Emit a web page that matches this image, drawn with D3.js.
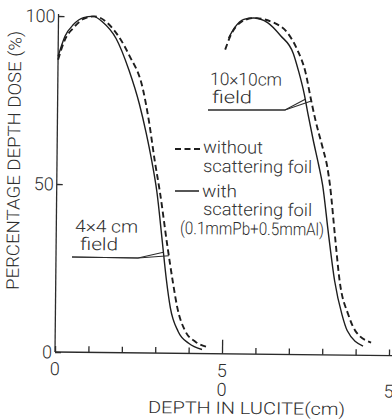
<!DOCTYPE html>
<html lang="en">
<head>
<meta charset="utf-8" />
<title>Percentage depth dose in lucite</title>
<script src="https://d3js.org/d3.v7.min.js"></script>
<style>
html, body { margin: 0; padding: 0; background: #fff; }
svg { display: block; }
text { font-family: Roboto, 'Liberation Sans', Arial, sans-serif; font-weight: 300; fill: #2e2e2e; }
.curve { fill: none; stroke: #1e1e1e; }
.axis path, .axis line { stroke: #2b2b2b; stroke-width: 1.3; }
.leader { fill: none; stroke: #2b2b2b; stroke-width: 1.1; }
</style>
</head>
<body>
<svg width="392" height="420"></svg>
<script>
// depth (cm) , percentage depth dose (%)
var field4With = [[0,88],[0.2,94],[0.45,97.5],[0.75,99.6],[1.03,100],[1.33,98.3],[1.73,93.5],[2.13,84],
  [2.45,74],[2.66,65.5],[2.84,57],[3.0,48],[3.18,33],[3.31,22],[3.44,13.5],[3.68,6.5],[4.0,3],[4.4,1.2]];
var field4Without = [[0,87],[0.2,93],[0.45,96.5],[0.75,99.2],[1.08,100],[1.63,96.4],[2.13,88.5],[2.55,78.5],
  [2.74,69],[2.93,57],[3.09,48],[3.33,32],[3.51,21],[3.65,13.5],[3.9,6.5],[4.2,3.5],[4.55,2]];
var field10With = [[0.1,94],[0.27,97],[0.55,99.6],[0.85,100],[1.26,98.7],[1.65,94.9],[2.04,89.6],[2.2,84.5],
  [2.38,77.6],[2.5,71.6],[2.67,63.6],[2.83,56.7],[2.96,50.5],[3.15,36],[3.35,22],[3.58,12],[3.74,7.3],[4.22,2.7]];
var field10Without = [[0,90.5],[0.17,95],[0.46,98.7],[0.85,100],[1.44,98.7],[1.86,95.7],[2.16,90.7],[2.42,83.7],
  [2.57,76.6],[2.73,69.6],[2.95,61.6],[3.1,55.6],[3.18,50.5],[3.35,35],[3.5,22],[3.77,12],[3.98,7.3],[4.46,3.8]];

var depthTicks = [0,1,2,3,4,5,6,7,8,9,10];
var doseTicks = [0,50,100];
var depthLabelsTop = [[0,'0'],[5,'5']];
var depthLabelsBottom = [[5,'0'],[10,'5']];
var legendLabels = ['without','scattering foil','with','scattering foil','(0.1mmPb+0.5mmAl)'];

var tilt = 0.6;  // the scan is turned a little clockwise
var ox = 55, oy = 352;

var svg = d3.select('svg');
var chart = svg.append('g').attr('transform', 'rotate(' + tilt + ',' + ox + ',' + oy + ')');

var x = d3.scaleLinear().domain([0, 10]).range([ox, 389]);
var y = d3.scaleLinear().domain([0, 100]).range([oy, 16]);

// image position -> position inside the turned group
function unrot(px, py) {
  var a = tilt * Math.PI / 180, dx = px - ox, dy = py - oy;
  return [ox + dx * Math.cos(a) + dy * Math.sin(a), oy - dx * Math.sin(a) + dy * Math.cos(a)];
}
function at(px, py) {
  var p = unrot(px, py);
  return 'translate(' + p[0] + ',' + p[1] + ')';
}

// axes
var xAxis = chart.append('g').attr('class', 'axis')
  .attr('transform', 'translate(0,' + oy + ')')
  .call(d3.axisBottom(x).tickValues(depthTicks).tickSizeInner(-6).tickSizeOuter(0).tickFormat(''));
xAxis.select('.domain').attr('d', 'M' + ox + ',0H394');
xAxis.selectAll('.tick line').filter(function (d) { return d === 5; }).attr('y2', -14);

var yAxis = chart.append('g').attr('class', 'axis')
  .attr('transform', 'translate(' + ox + ',0)')
  .call(d3.axisLeft(y).tickValues(doseTicks).tickSizeInner(-6).tickSizeOuter(0).tickPadding(3));
yAxis.select('.domain').attr('d', 'M0,' + oy + 'V14');
yAxis.selectAll('text').attr('font-size', 18);

chart.selectAll('.lab-top').data(depthLabelsTop).enter().append('text')
  .attr('x', function (d) { return x(d[0]); }).attr('y', 375)
  .attr('text-anchor', 'middle').attr('font-size', 18).text(function (d) { return d[1]; });
chart.selectAll('.lab-bot').data(depthLabelsBottom).enter().append('text')
  .attr('x', function (d) { return x(d[0]); }).attr('y', 394)
  .attr('text-anchor', 'middle').attr('font-size', 18).text(function (d) { return d[1]; });

// curves, the 10x10 set starts its own depth scale at 5
function curve(data, shift, dashed) {
  var line = d3.line()
    .x(function (d) { return x(d[0] + shift); })
    .y(function (d) { return y(d[1]); })
    .curve(d3.curveMonotoneX);
  chart.append('path').datum(data).attr('class', 'curve').attr('d', line)
    .attr('stroke-width', dashed ? 1.9 : 1.4)
    .attr('stroke-dasharray', dashed ? '6,3.5' : null);
}
curve(field4With, 0, false);
curve(field4Without, 0, true);
curve(field10With, 5, false);
curve(field10Without, 5, true);

// depth on the falling side where the curve crosses pct
function depthAt(data, pct) {
  for (var i = 1; i < data.length; i++) {
    var a = data[i - 1], b = data[i];
    if (a[1] >= pct && b[1] <= pct && b[1] < a[1]) {
      return a[0] + (a[1] - pct) / (a[1] - b[1]) * (b[0] - a[0]);
    }
  }
  return data[data.length - 1][0];
}

function leader(start, elbow, targets) {
  var s = unrot(start[0], start[1]), e = unrot(elbow[0], elbow[1]);
  targets.forEach(function (t) {
    var tx = x(depthAt(t.data, t.pct) + t.shift), ty = y(t.pct);
    chart.append('path').attr('class', 'leader')
      .attr('d', 'M' + s[0] + ',' + s[1] + 'L' + e[0] + ',' + e[1] + 'L' + tx + ',' + ty);
  });
}
leader([72, 257], [138, 258], [
  { data: field4With, pct: 30, shift: 0 },
  { data: field4Without, pct: 29, shift: 0 }]);
leader([208, 110], [285, 110], [
  { data: field10With, pct: 76, shift: 5 },
  { data: field10Without, pct: 75.5, shift: 5 }]);

// text
function label(txt, px, py, size, len) {
  chart.append('text').attr('transform', at(px, py))
    .attr('font-size', size).attr('textLength', len).attr('lengthAdjust', 'spacingAndGlyphs')
    .text(txt);
}
label('10\u00d710cm', 210, 85, 17.5, 72);
label('field', 212, 103, 17.5, 40);
label('4\u00d74 cm', 75, 232, 17.5, 63);
label('field', 80, 250, 17.5, 38);

// legend
var legendRows = [[203, 153, 60], [203, 172, 109], [202, 197, 35], [203, 215, 109], [180, 234, 144]];
legendLabels.forEach(function (t, i) {
  label(t, legendRows[i][0], legendRows[i][1], 17.5, legendRows[i][2]);
});
var d1 = unrot(175, 149), d2 = unrot(201, 149);
chart.append('line').attr('class', 'curve').attr('stroke-width', 1.9).attr('stroke-dasharray', '6,3.5')
  .attr('x1', d1[0]).attr('y1', d1[1]).attr('x2', d2[0]).attr('y2', d2[1]);
var s1 = unrot(175, 191), s2 = unrot(199, 191);
chart.append('line').attr('class', 'curve').attr('stroke-width', 1.5)
  .attr('x1', s1[0]).attr('y1', s1[1]).attr('x2', s2[0]).attr('y2', s2[1]);

// axis titles
var yt = unrot(20, 160.5);
chart.append('text').attr('transform', 'translate(' + yt[0] + ',' + yt[1] + ') rotate(-90)')
  .attr('text-anchor', 'middle').attr('font-size', 17.5)
  .attr('textLength', 259).attr('lengthAdjust', 'spacingAndGlyphs')
  .text('PERCENTAGE DEPTH DOSE (%)');
label('DEPTH IN LUCITE(cm)', 148, 413, 17, 197);
</script>
</body>
</html>
